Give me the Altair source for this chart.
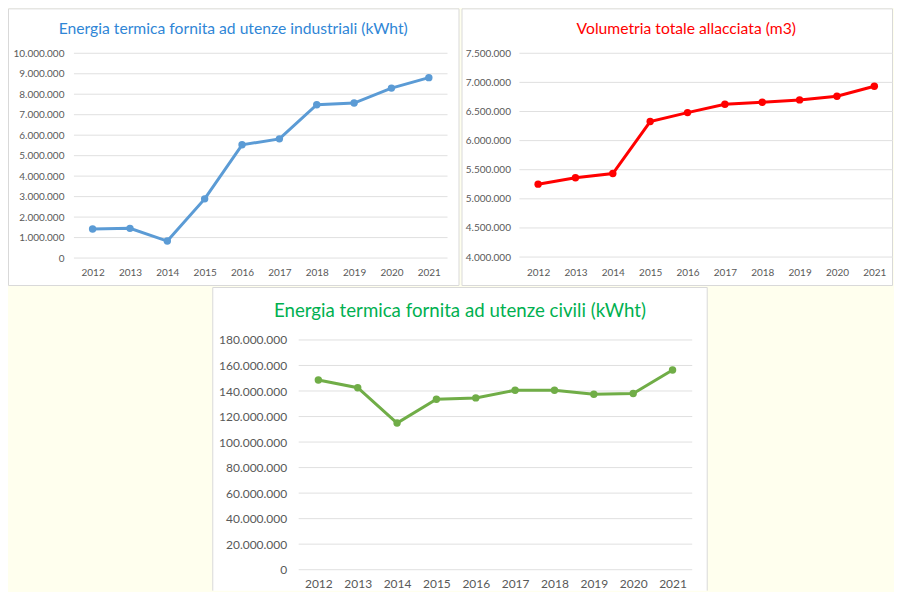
import altair as alt
import pandas as pd

years = ["2012", "2013", "2014", "2015", "2016", "2017", "2018", "2019", "2020", "2021"]
industriali = [1420000, 1450000, 830000, 2890000, 5530000, 5820000, 7490000, 7570000, 8300000, 8810000]
volumetria = [5252000, 5361000, 5435000, 6327000, 6481000, 6624000, 6659000, 6699000, 6762000, 6933000]
civili = [148600000, 142600000, 114900000, 133600000, 134600000, 140600000, 140600000, 137400000, 138000000, 156400000]

title_ind = "Energia termica fornita ad utenze industriali (kWht)"
title_vol = "Volumetria totale allacciata (m3)"
title_civ = "Energia termica fornita ad utenze civili (kWht)"

ticks_ind = list(range(0, 10000001, 1000000))
ticks_vol = list(range(4000000, 7500001, 500000))
ticks_civ = list(range(0, 180000001, 20000000))

BG = "#FFFFEE"
BORDER = "#D9D9D9"
GRID = "#E0E0E0"
LABEL = "#595959"
FONT = "Lato"

label_expr = "replace(format(datum.value, ','), regexp(',', 'g'), '.')"


def panel(values, ticks, domain, color, title, title_color, w, h, xr,
          box, title_pos, title_size, label_size, pad_y, pad_x, border="rect"):
    df = pd.DataFrame({"Anno": years, "Valore": values})
    gdf = pd.DataFrame({"Valore": ticks})
    one = pd.DataFrame({"t": [title]})
    layers = []
    if border == "rect":
        layers.append(
            alt.Chart(one).mark_rect(fill="white", stroke=BORDER, strokeWidth=1).encode(
                x=alt.value(box[0]), x2=alt.value(box[1]),
                y=alt.value(box[2]), y2=alt.value(box[3]))
        )
    else:
        layers.append(
            alt.Chart(one).mark_rect(fill="white", strokeWidth=0).encode(
                x=alt.value(box[0]), x2=alt.value(box[1]),
                y=alt.value(box[2]), y2=alt.value(box[3]))
        )
        for (xa, xb, ya, yb) in [(box[0], box[0], box[2], box[3]),
                                 (box[1], box[1], box[2], box[3]),
                                 (box[0], box[1], box[2], box[2])]:
            layers.append(
                alt.Chart(one).mark_rule(color=BORDER, strokeWidth=1).encode(
                    x=alt.value(xa), x2=alt.value(xb), y=alt.value(ya), y2=alt.value(yb))
            )
    yscale = alt.Scale(domain=domain, nice=False, zero=False)
    yaxis = alt.Axis(values=ticks, labelExpr=label_expr, domain=False, ticks=False,
                     grid=False, offset=-xr[0], title=None,
                     labelColor=LABEL, labelFont=FONT, labelFontSize=label_size,
                     labelPadding=pad_y, zindex=1)
    # gridlines at the tick values
    layers.append(
        alt.Chart(gdf).mark_rule(color=GRID, strokeWidth=1).encode(
            y=alt.Y("Valore:Q", scale=yscale, axis=yaxis, title=None),
            x=alt.value(xr[0]), x2=alt.value(xr[1]))
    )
    base = alt.Chart(df).encode(
        x=alt.X("Anno:O", title=None, sort=years,
                scale=alt.Scale(padding=0.5, range=list(xr)),
                axis=alt.Axis(labelAngle=0, domain=False, ticks=False, grid=False,
                              labelColor=LABEL, labelFont=FONT, labelFontSize=label_size,
                              labelPadding=pad_x, zindex=1)),
        y=alt.Y("Valore:Q", title=None, scale=yscale, axis=yaxis),
    )
    layers.append(base.mark_line(color=color, strokeWidth=3))
    layers.append(base.mark_point(color=color, filled=True, opacity=1, size=55))
    layers.append(
        alt.Chart(one).mark_text(font=FONT, fontSize=title_size, color=title_color,
                                 align="center", baseline="middle").encode(
            x=alt.value(title_pos[0]), y=alt.value(title_pos[1]), text="t:N")
    )
    return alt.layer(*layers).properties(width=w, height=h)


left = panel(industriali, ticks_ind, [0, 10000000], "#5B9BD5", title_ind, "#2F86D6",
             374, 205, (0, 374), (-65.5, 385.5, -44.5, 232.5), (159.5, -24), 15.7, 10, 10, 9)
right = panel(volumetria, ticks_vol, [4000000, 7500000], "#FF0000", title_vol, "#FF0000",
              374, 204, (0, 374), (-57.5, 373.5, -44.5, 232.5), (167, -24), 15.7, 10, 9, 10)
bottom = panel(civili, ticks_civ, [0, 180000000], "#70AD47", title_civ, "#00B050",
               619, 230, (225, 619), (139, 634, -52.5, 251), (386.5, -29), 18.7, 12, 12, 9,
               border="rules")

top = alt.hconcat(left, right, spacing=2)
chart = alt.vconcat(top, bottom, spacing=1).properties(
    background=BG, padding=0
).configure_view(stroke=None)

chart.save("out.html", embed_options={"renderer": "svg", "actions": False})
